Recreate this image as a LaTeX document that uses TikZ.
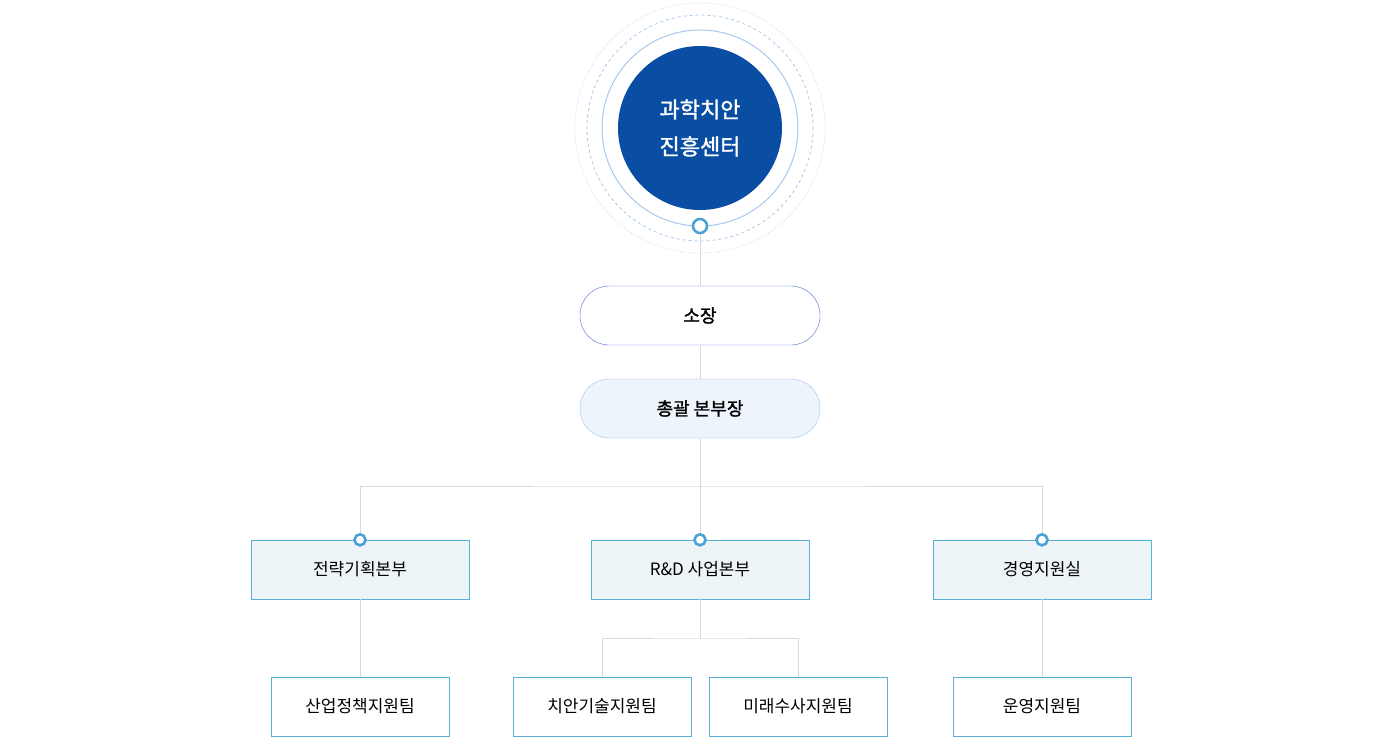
\documentclass[tikz,border=0pt]{standalone}
\usepackage{fontspec}
\setmainfont{Noto Sans CJK KR}
\newfontfamily\kbold{Noto Sans CJK KR}[FakeBold=1.5]
\definecolor{lnc}{HTML}{D9D9D9}
\definecolor{dot}{HTML}{4AA3D4}
\definecolor{navy}{HTML}{0A4EA3}
\definecolor{bx}{HTML}{5AB0D6}
\definecolor{dfill}{HTML}{EDF4F7}
\definecolor{cring}{HTML}{A9C8EC}
\definecolor{pb}{HTML}{4A6FCF}
\definecolor{gfill}{HTML}{EEF4FC}
\definecolor{gb}{HTML}{9EC3E8}
\begin{document}
\begin{tikzpicture}[x=1pt,y=-1pt,
 ln/.style={draw=lnc,line width=1pt},
 ring/.style={circle,draw=dot,line width=2.6pt,fill=white,inner sep=0pt},
 dept/.style={draw=bx,fill=dfill,minimum width=218pt,minimum height=59pt,font=\fontsize{17}{19}\selectfont},
 team/.style={draw=bx,fill=white,minimum width=178pt,minimum height=59pt,font=\fontsize{17}{19}\selectfont},
 pill/.style={rounded corners=29pt,minimum width=240pt,minimum height=59pt,font=\kbold\fontsize{18}{20}\selectfont}]
\useasboundingbox (0,0) rectangle (1400,752);
\fill[white] (0,0) rectangle (1400,752);
\draw[cring!70,dotted,line width=0.8pt] (700,128) circle (125);
\draw[cring,dashed,line width=0.8pt] (700,128) circle (113);
\draw[cring,line width=1pt] (700,128) circle (98);
\node[circle,fill=navy,minimum size=164pt,inner sep=0pt] (c) at (700,128) {};
\node[white,font=\kbold\fontsize{22}{37}\selectfont,align=center] at (700,128) {과학치안\\진흥센터};
\node[ring,minimum size=14pt] (r0) at (700,226) {};
\node[pill,draw=pb,fill=white] (s) at (700,315.5) {소장};
\node[pill,draw=gb,fill=gfill] (g) at (700,408.5) {총괄 본부장};
\draw[ln] (r0) -- (s);
\draw[ln] (s) -- (g);
\coordinate (h) at (700,486);
\node[dept] (d1) at (360,569.5) {전략기획본부};
\node[dept] (d2) at (700,569.5) {R\&D 사업본부};
\node[dept] (d3) at (1042,569.5) {경영지원실};
\draw[ln] (g.south) -- (h);
\draw[ln] (d1.north) |- (h) -| (d3.north);
\draw[ln] (h) -- (d2.north);
\node[ring,minimum size=11pt] at (d1.north) {};
\node[ring,minimum size=11pt] at (d2.north) {};
\node[ring,minimum size=11pt] at (d3.north) {};
\node[team] (t1) at (360,706.5) {산업정책지원팀};
\node[team] (t2) at (602,706.5) {치안기술지원팀};
\node[team] (t3) at (798,706.5) {미래수사지원팀};
\node[team] (t4) at (1042,706.5) {운영지원팀};
\draw[ln] (d1) -- (t1);
\draw[ln] (d3) -- (t4);
\coordinate (h2) at (700,638);
\draw[ln] (d2.south) -- (h2);
\draw[ln] (t2.north) |- (h2) -| (t3.north);
\end{tikzpicture}
\end{document}
